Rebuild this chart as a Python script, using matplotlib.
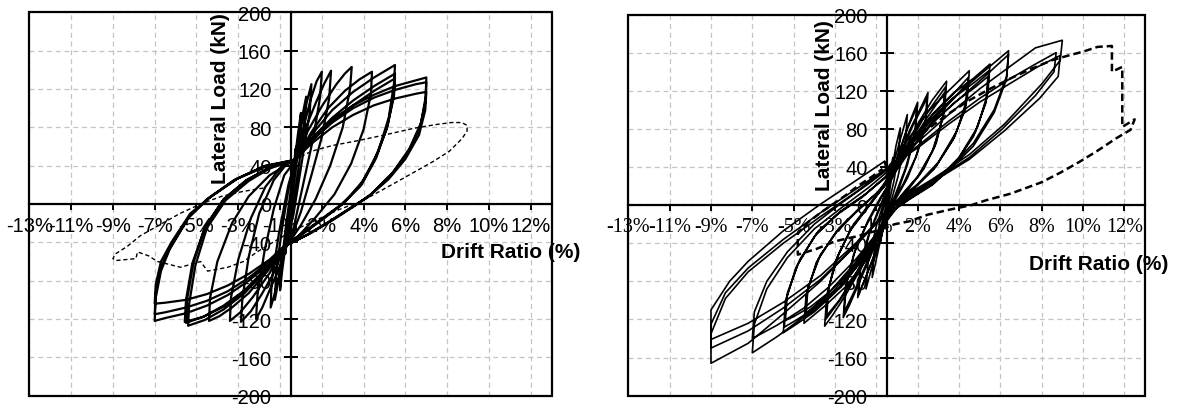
import matplotlib
matplotlib.use("Agg")
import matplotlib.pyplot as plt
from matplotlib.patches import Rectangle

# ---------------- data ----------------
x_tick_labels = ['-13%', '-11%', '-9%', '-7%', '-5%', '-3%', '-1%',
                 '2%', '4%', '6%', '8%', '10%', '12%']
y_tick_values = [-200, -160, -120, -80, -40, 0, 40, 80, 120, 160, 200]
y_tick_labels = ['-200', '-160', '-120', '-80', '-40', '0', '40', '80',
                 '120', '160', '200']
x_title = 'Drift Ratio (%)'
y_title = 'Lateral Load (kN)'

# specimen 1 (left) - solid cycles (drift %, load kN)
left_solid = [
    (0, 0), (0.1, 28), (0.25, 58), (0.2, 40), (0.05, 10), (-0.1, -20), (-0.25, -52), (-0.2, -35), (-0.05, -5),
    (0.2, 45), (0.35, 72), (0.5, 95), (0.45, 72), (0.25, 35), (0.0, -5), (-0.25, -45), (-0.4, -70), (-0.5, -90),
    (-0.45, -65), (-0.2, -20),
    (0.05, 20), (0.3, 60), (0.55, 90), (0.75, 112), (0.68, 85), (0.4, 40), (0.1, -5), (-0.2, -38), (-0.5, -72),
    (-0.75, -100), (-0.68, -70), (-0.4, -25),
    (-0.1, 15), (0.2, 45), (0.5, 80), (0.8, 108), (1.0, 125), (0.92, 95), (0.55, 45), (0.15, -10), (-0.2, -42),
    (-0.55, -75), (-0.8, -97), (-0.95, -108), (-0.9, -80), (-0.55, -30),
    (-0.1, 20), (0.25, 46), (0.6, 78), (0.95, 108), (1.25, 128), (1.5, 138), (1.42, 112), (1.1, 70), (0.6, 20),
    (0.15, -25), (-0.2, -45), (-0.6, -70), (-1.0, -90), (-1.35, -108), (-1.65, -120), (-1.58, -95), (-1.25, -50),
    (-0.8, -5),
    (-0.3, 30), (0.25, 46), (0.7, 78), (1.2, 105), (1.6, 125), (1.94, 139), (1.85, 110), (1.5, 70), (1.0, 30),
    (0.5, -8), (0.0, -38), (-0.3, -46), (-0.8, -72), (-1.4, -95), (-1.9, -112), (-2.37, -123), (-2.3, -98),
    (-2.0, -55), (-1.5, -10), (-0.8, 25),
    (-0.1, 44), (0.25, 47), (0.8, 75), (1.5, 102), (2.2, 125), (2.6, 136), (2.93, 143), (2.85, 120), (2.5, 80),
    (1.9, 40), (1.2, 5), (0.5, -22), (0.0, -38), (-0.3, -45), (-1.0, -72), (-1.8, -97), (-2.4, -113), (-2.9, -122),
    (-2.85, -98), (-2.5, -58), (-1.9, -15), (-1.2, 18),
    (-0.4, 40), (0.25, 47), (1.0, 75), (1.8, 100), (2.6, 118), (3.3, 130), (3.9, 138), (3.85, 115), (3.5, 78),
    (2.9, 42), (2.1, 10), (1.2, -14), (0.4, -33), (-0.3, -45), (-1.1, -70), (-2.0, -93), (-2.8, -108),
    (-3.4, -117), (-3.9, -122), (-3.85, -98), (-3.5, -60), (-2.8, -20), (-2.0, 8), (-1.0, 30),
    (0.2, 46), (1.0, 72), (2.0, 98), (3.0, 117), (4.0, 132), (5.0, 145), (4.95, 125), (4.7, 90), (4.2, 55),
    (3.5, 25), (2.6, 2), (1.6, -15), (0.6, -31), (-0.3, -44), (-1.2, -68), (-2.2, -90), (-3.2, -106), (-4.2, -118),
    (-5.06, -123), (-5.0, -100), (-4.7, -62), (-4.1, -25), (-3.2, 5), (-2.1, 25), (-1.0, 38),
    (0.2, 46), (1.0, 68), (2.0, 90), (3.0, 108), (4.0, 123), (5.0, 136), (4.95, 116), (4.65, 82), (4.1, 48),
    (3.4, 20), (2.5, 0), (1.5, -16), (0.5, -32), (-0.3, -44), (-1.2, -70), (-2.2, -93), (-3.2, -110), (-4.1, -121),
    (-4.9, -127), (-4.85, -104), (-4.55, -64), (-4.0, -25), (-3.1, 4), (-2.0, 24), (-1.0, 37),
    (0.2, 46), (1.0, 66), (2.0, 86), (3.0, 103), (4.0, 118), (5.0, 131), (4.95, 112), (4.6, 78), (4.0, 45),
    (3.3, 18), (2.4, -1), (1.4, -17), (0.4, -33), (-0.3, -44), (-1.2, -69), (-2.2, -91), (-3.2, -107), (-4.1, -117),
    (-5.0, -124), (-4.95, -100), (-4.65, -62), (-4.1, -24), (-3.2, 5), (-2.1, 25), (-1.0, 38),
    (0.2, 46), (1.0, 68), (2.0, 88), (3.0, 103), (4.0, 114), (5.0, 123), (6.0, 129), (6.5, 132), (6.47, 112),
    (6.25, 85), (5.7, 58), (4.9, 33), (3.9, 11), (3.0, -3), (2.0, -17), (1.0, -30), (0.0, -41), (-0.3, -44),
    (-1.0, -62), (-2.0, -80), (-3.0, -95), (-4.0, -106), (-5.0, -114), (-6.0, -119), (-6.5, -122), (-6.45, -98),
    (-6.2, -70), (-5.8, -48), (-4.9, -15), (-4.0, 5), (-2.7, 25), (-1.3, 38),
    (0.2, 46), (1.0, 66), (2.0, 85), (3.0, 100), (4.0, 111), (5.0, 119), (6.0, 125), (6.5, 127), (6.47, 108),
    (6.2, 80), (5.6, 53), (4.8, 30), (3.8, 9), (2.9, -4), (1.9, -18), (0.9, -31), (0.0, -41), (-0.3, -44),
    (-1.0, -60), (-2.0, -77), (-3.0, -91), (-4.0, -101), (-5.0, -108), (-6.0, -113), (-6.5, -115), (-6.45, -93),
    (-6.2, -66), (-5.75, -45), (-4.85, -13), (-3.9, 6), (-2.6, 26), (-1.3, 39),
    (0.2, 46), (1.0, 63), (2.0, 80), (3.0, 93), (4.0, 103), (5.0, 110), (6.0, 115), (6.5, 117), (6.45, 98),
    (6.15, 72), (5.5, 47), (4.7, 26), (3.7, 7), (2.8, -5), (1.8, -19), (0.8, -32), (0.0, -41), (-0.3, -44),
    (-1.0, -58), (-2.0, -73), (-3.0, -85), (-4.0, -94), (-5.0, -100), (-6.0, -103), (-6.5, -104), (-6.45, -84),
    (-6.2, -60), (-5.7, -40), (-4.8, -10), (-3.8, 8), (-2.5, 27), (-1.2, 40), (0.2, 46),
]

# specimen 1 (left) - final dashed cycle
left_dashed = [
    (0.2, 46), (1.0, 55), (2.0, 61), (3.2, 66), (4.5, 72), (5.9, 79), (7.0, 83), (7.7, 85), (8.2, 85),
    (8.45, 82), (8.45, 76), (8.2, 68), (7.6, 55), (6.8, 44), (5.9, 33), (5.0, 22), (4.0, 10), (3.4, 3),
    (2.3, -6), (1.4, -15), (0.5, -24), (-0.3, -33), (-1.0, -42), (-1.6, -50), (-2.25, -60), (-3.0, -66),
    (-3.97, -70), (-4.3, -60), (-5.26, -66), (-6.36, -60), (-6.8, -54), (-7.32, -50), (-7.4, -57), (-8.37, -59),
    (-8.5, -57), (-8.37, -52), (-7.8, -44), (-7.18, -33), (-6.36, -23), (-5.3, -10), (-4.3, 0), (-3.3, 8),
    (-2.3, 13), (-1.2, 17),
]

# specimen 2 (right) - solid cycles
right_solid = [
    (0, 0), (0.15, 25), (0.3, 50), (0.25, 30), (0.05, 2), (-0.15, -20), (-0.3, -40), (-0.25, -22), (-0.05, -2),
    (0.2, 30), (0.45, 62), (0.66, 81), (0.6, 58), (0.35, 25), (0.0, -8), (-0.35, -42), (-0.55, -62), (-0.7, -76),
    (-0.62, -52), (-0.35, -20),
    (0.0, 10), (0.35, 45), (0.7, 72), (1.0, 95), (0.92, 68), (0.55, 30), (0.1, -5), (-0.4, -42), (-0.75, -68),
    (-1.0, -88), (-0.9, -60), (-0.5, -22),
    (0.0, 12), (0.4, 42), (0.9, 75), (1.2, 92), (1.5, 108), (1.4, 78), (1.0, 42), (0.5, 12), (0.0, -15),
    (-0.5, -48), (-1.0, -75), (-1.4, -97), (-1.3, -68), (-0.9, -33), (-0.4, -5),
    (0.1, 20), (0.5, 48), (1.0, 80), (1.45, 102), (1.35, 72), (0.9, 38), (0.4, 10), (-0.1, -18), (-0.6, -52),
    (-1.0, -75), (-1.35, -93), (-1.25, -62), (-0.8, -28), (-0.3, -2),
    (0.1, 22), (0.6, 50), (1.1, 78), (1.6, 100), (2.0, 118), (1.9, 88), (1.5, 55), (1.0, 28), (0.4, 5),
    (-0.2, -22), (-0.8, -55), (-1.4, -85), (-1.8, -105), (-2.1, -118), (-2.0, -88), (-1.6, -52), (-1.0, -22),
    (-0.4, 2),
    (0.2, 26), (0.7, 55), (1.3, 85), (1.95, 112), (1.85, 82), (1.4, 50), (0.8, 22), (0.2, 0), (-0.4, -30),
    (-1.0, -62), (-1.6, -92), (-2.05, -112), (-1.95, -82), (-1.5, -46), (-0.9, -16), (-0.3, 8),
    (0.2, 25), (0.8, 55), (1.5, 85), (2.2, 110), (2.9, 130), (2.8, 100), (2.4, 65), (1.8, 38), (1.0, 15),
    (0.2, -5), (-0.5, -35), (-1.2, -65), (-2.0, -95), (-2.6, -115), (-3.0, -127), (-2.9, -96), (-2.5, -60),
    (-1.8, -28), (-1.0, -5), (-0.3, 15),
    (0.3, 30), (1.0, 60), (1.8, 92), (2.85, 124), (2.75, 95), (2.3, 60), (1.6, 32), (0.8, 12), (0.1, -8),
    (-0.6, -38), (-1.4, -70), (-2.2, -98), (-2.95, -120), (-2.85, -90), (-2.4, -55), (-1.7, -24), (-0.9, -2),
    (-0.2, 18),
    (0.3, 32), (1.0, 58), (1.9, 90), (2.8, 118), (2.7, 90), (2.2, 56), (1.5, 30), (0.7, 10), (0.0, -10),
    (-0.7, -40), (-1.5, -72), (-2.3, -100), (-2.9, -116), (-2.8, -86), (-2.3, -50), (-1.6, -20), (-0.8, 2),
    (-0.1, 20),
    (0.3, 38), (1.0, 68), (2.0, 98), (3.0, 120), (4.0, 141), (3.9, 112), (3.4, 78), (2.5, 45), (1.5, 22),
    (0.5, 5), (-0.3, -30), (-1.0, -58), (-2.0, -86), (-3.0, -106), (-4.0, -124), (-3.9, -95), (-3.4, -60),
    (-2.5, -30), (-1.5, -8), (-0.5, 12),
    (0.4, 36), (1.2, 64), (2.2, 94), (3.2, 116), (3.95, 134), (3.85, 106), (3.3, 72), (2.4, 41), (1.4, 19),
    (0.4, 2), (-0.4, -30), (-1.2, -58), (-2.2, -86), (-3.2, -104), (-3.95, -118), (-3.85, -90), (-3.3, -56),
    (-2.4, -27), (-1.4, -5), (-0.4, 14),
    (0.4, 34), (1.3, 62), (2.3, 90), (3.3, 113), (3.9, 128), (3.8, 100), (3.2, 68), (2.3, 38), (1.3, 17),
    (0.3, 0), (-0.5, -32), (-1.3, -60), (-2.3, -87), (-3.3, -103), (-3.9, -113), (-3.8, -86), (-3.2, -52),
    (-2.3, -24), (-1.3, -3), (-0.3, 16),
    (0.3, 38), (1.2, 68), (2.2, 95), (3.2, 117), (4.2, 133), (5.0, 148), (4.9, 118), (4.4, 82), (3.5, 50),
    (2.4, 26), (1.3, 10), (0.3, -5), (-0.5, -35), (-1.5, -66), (-2.5, -92), (-3.5, -112), (-4.3, -124),
    (-5.0, -134), (-4.9, -102), (-4.4, -66), (-3.5, -33), (-2.4, -10), (-1.2, 8), (-0.3, 25),
    (0.3, 36), (1.2, 64), (2.2, 90), (3.2, 112), (4.2, 128), (4.95, 141), (4.85, 112), (4.3, 77), (3.4, 46),
    (2.3, 23), (1.2, 8), (0.2, -7), (-0.6, -36), (-1.6, -66), (-2.6, -91), (-3.6, -110), (-4.4, -121),
    (-4.95, -128), (-4.85, -97), (-4.3, -62), (-3.4, -30), (-2.3, -8), (-1.1, 10), (-0.2, 27),
    (0.3, 35), (1.3, 62), (2.3, 88), (3.3, 108), (4.3, 124), (4.9, 135), (4.8, 107), (4.2, 72), (3.3, 43),
    (2.2, 21), (1.1, 6), (0.1, -9), (-0.7, -38), (-1.7, -67), (-2.7, -90), (-3.7, -107), (-4.5, -117),
    (-4.9, -121), (-4.8, -92), (-4.2, -57), (-3.3, -27), (-2.2, -6), (-1.0, 12), (-0.1, 28),
    (0.3, 42), (1.3, 70), (2.5, 98), (3.6, 120), (4.8, 142), (5.9, 162), (5.8, 135), (5.2, 100), (4.2, 65),
    (3.0, 38), (1.8, 18), (0.6, 2), (-0.3, -25), (-1.5, -60), (-2.8, -92), (-4.0, -117), (-5.3, -138),
    (-6.5, -155), (-6.4, -125), (-5.8, -88), (-4.8, -55), (-3.5, -25), (-2.2, -3), (-0.9, 18),
    (0.2, 38), (1.3, 66), (2.5, 92), (3.7, 115), (4.9, 138), (5.9, 158), (5.8, 132), (5.2, 97), (4.2, 62),
    (3.0, 36), (1.8, 16), (0.6, 0), (-0.3, -25), (-1.5, -57), (-2.8, -86), (-4.0, -108), (-5.3, -126),
    (-6.5, -140), (-6.4, -112), (-5.8, -80), (-4.8, -49), (-3.5, -20), (-2.2, 2), (-0.9, 22),
    (0.2, 40), (1.5, 66), (3.0, 95), (4.5, 122), (6.0, 146), (7.2, 165), (8.5, 173), (8.4, 152), (7.5, 127),
    (5.7, 85), (4.0, 53), (2.2, 27), (0.75, 8), (0.0, -6), (-1.4, -40), (-3.2, -80), (-5.0, -114), (-6.7, -145),
    (-8.5, -166), (-8.5, -135), (-7.8, -98), (-6.7, -70), (-5.0, -40), (-3.2, -12), (-1.4, 15),
    (0.1, 40), (1.5, 62), (3.0, 88), (4.5, 112), (6.0, 133), (7.2, 148), (8.2, 160), (8.1, 140), (7.2, 115),
    (5.6, 80), (4.0, 50), (2.2, 25), (0.7, 6), (0.0, -8), (-1.4, -40), (-3.2, -78), (-5.0, -108), (-6.7, -132),
    (-8.5, -150), (-8.5, -125), (-7.8, -92), (-6.7, -66), (-5.0, -36), (-3.2, -8), (-1.4, 18),
    (0.1, 40), (1.5, 60), (3.0, 85), (4.5, 108), (6.0, 128), (7.3, 145), (8.4, 157), (8.3, 135), (7.4, 112),
    (5.7, 78), (4.0, 48), (2.2, 24), (0.7, 5), (0.0, -8), (-1.4, -38), (-3.2, -74), (-5.0, -102), (-6.7, -124),
    (-8.5, -141), (-8.5, -110), (-7.6, -80), (-6.7, -59), (-5.0, -27), (-3.2, 1), (-1.4, 27), (-0.1, 46),
]

# specimen 2 (right) - final dashed cycle
right_dashed = [
    (-0.1, 46), (0.0, 38), (1.0, 62), (2.0, 80), (3.0, 96), (4.0, 110), (5.0, 122), (6.0, 133), (7.0, 143),
    (8.0, 152), (8.8, 157), (9.5, 161), (10.2, 166), (10.9, 167), (10.9, 140), (11.4, 145), (11.4, 82),
    (12.0, 90), (11.8, 79), (11.1, 70), (10.2, 57), (9.3, 45), (8.4, 34), (7.5, 24), (6.0, 12), (4.8, 5),
    (4.1, 0), (3.0, -5), (2.0, -10), (1.1, -17), (0.4, -20), (-0.5, -27), (-1.5, -33), (-2.5, -38),
    (-3.4, -46), (-4.3, -52), (-4.3, -30), (-3.8, -18), (-3.2, -8), (-2.6, 1), (-2.0, 10), (-1.4, 20),
    (-0.7, 30), (-0.2, 38),
]

# ---------------- figure ----------------
W, H = 1178, 406
fig = plt.figure(figsize=(W / 100, H / 100), dpi=100)
axL = fig.add_axes([29.3 / W, 1 - 396.7 / H, 522.4 / W, 383.4 / H])
axR = fig.add_axes([628.3 / W, 1 - 396.7 / H, 516.7 / W, 381.2 / H])

SANS = 'Liberation Sans'
SERIF = 'Liberation Serif'
x_tick_pos = [-12.5 + 2 * i for i in range(len(x_tick_labels))]


def style(ax, xfont):
    ax.set_xlim(-12.5, 12.5)
    ax.set_ylim(-200, 200)
    for s in ('top', 'right'):
        ax.spines[s].set_visible(False)
    ax.spines['left'].set_position(('data', 0))
    ax.spines['bottom'].set_position(('data', 0))
    ax.spines['left'].set_linewidth(1.6)
    ax.spines['bottom'].set_linewidth(1.6)
    ax.add_patch(Rectangle((0, 0), 1, 1, transform=ax.transAxes, fill=False,
                           lw=1.6, ec='black', clip_on=False, zorder=5))
    ax.set_xticks(x_tick_pos)
    ax.set_xticklabels(x_tick_labels, fontfamily=xfont, fontsize=14.5)
    ax.set_yticks(y_tick_values)
    ax.set_yticklabels(y_tick_labels, fontfamily=SANS, fontsize=14.5)
    ax.tick_params(axis='x', direction='out', length=4, width=1.4, pad=4.5)
    ax.tick_params(axis='y', direction='inout', length=9.5, width=1.4, pad=9)
    ax.grid(True, color='#c4c4c4', linestyle=(0, (4, 3)), linewidth=0.9)
    ax.set_axisbelow(True)
    ax.patch.set_alpha(0)


style(axL, SANS)
style(axR, SERIF)

axL.plot([p[0] for p in left_solid], [p[1] for p in left_solid],
         color='black', lw=1.6, solid_joinstyle='round', zorder=3)
axL.plot([p[0] for p in left_dashed], [p[1] for p in left_dashed],
         color='black', lw=1.0, linestyle=(0, (3, 2)), zorder=3)
axR.plot([p[0] for p in right_solid], [p[1] for p in right_solid],
         color='black', lw=1.2, solid_joinstyle='round', zorder=3)
axR.plot([p[0] for p in right_dashed], [p[1] for p in right_dashed],
         color='black', lw=1.8, linestyle=(0, (3, 1.6)), zorder=3)

# axis titles
fig.text(221 / W, 1 - 99 / H, y_title, rotation=90, ha='center', va='center',
         fontfamily=SANS, fontweight='bold', fontsize=15)
fig.text(824 / W, 1 - 106 / H, y_title, rotation=90, ha='center', va='center',
         fontfamily=SANS, fontweight='bold', fontsize=15)
fig.text(580 / W, 1 - 252 / H, x_title, ha='right', va='center',
         fontfamily=SANS, fontweight='bold', fontsize=15)
fig.text(1168 / W, 1 - 265 / H, x_title, ha='right', va='center',
         fontfamily=SANS, fontweight='bold', fontsize=15)

fig.savefig('out.png', dpi=100)
